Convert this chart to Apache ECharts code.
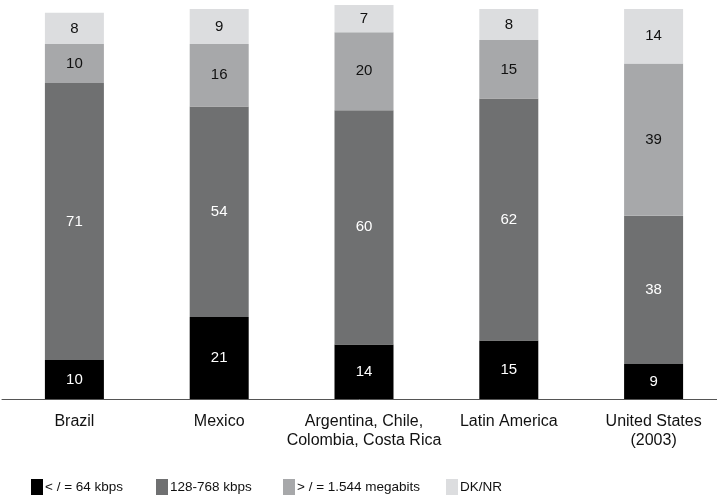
<!DOCTYPE html>
<html>
<head>
<meta charset="utf-8">
<script src="https://cdn.jsdelivr.net/npm/echarts@6/dist/echarts.min.js"></script>
<style>
  html, body { margin: 0; padding: 0; background: #fff; }
  #chart { width: 717px; height: 498px; }
</style>
</head>
<body>
<div id="chart"></div>
<script>
var categories = ['Brazil', 'Mexico', 'Argentina, Chile,\nColombia, Costa Rica', 'Latin America', 'United States\n(2003)'];
var seriesNames = ['< / = 64 kbps', '128-768 kbps', '> / = 1.544 megabits', 'DK/NR'];
var slow = [10, 21, 14, 15, 9];
var mid = [71, 54, 60, 62, 38];
var fast = [10, 16, 20, 15, 39];
var dknr = [8, 9, 7, 8, 14];

var colors = ['#000000', '#6f7071', '#a7a8aa', '#dcdddf'];
var labelColors = ['#ffffff', '#ffffff', '#111111', '#111111'];
var legendLeft = [31, 156, 283, 446];

var chart = echarts.init(document.getElementById('chart'));

function makeSeries(i, data) {
  return {
    name: seriesNames[i],
    type: 'bar',
    stack: 'total',
    barWidth: 59,
    clip: false,
    data: data,
    itemStyle: { color: colors[i] },
    label: {
      show: true,
      position: 'inside',
      color: labelColors[i],
      fontSize: 15,
      fontFamily: 'Liberation Sans, Arial, sans-serif'
    }
  };
}

var legends = seriesNames.map(function (name, i) {
  return {
    data: [name],
    left: legendLeft[i],
    top: 479,
    itemWidth: 12,
    itemHeight: 16,
    itemGap: 0,
    icon: 'rect',
    textStyle: {
      fontSize: 13.5,
      color: '#111',
      padding: [0, 0, 0, -3],
      fontFamily: 'Liberation Sans, Arial, sans-serif'
    },
    padding: 0,
    selectedMode: false
  };
});

var option = {
  backgroundColor: '#ffffff',
  animation: false,
  legend: legends,
  grid: { left: 2, right: -9, top: 5, bottom: 99, outerBoundsMode: 'none', containLabel: false },
  xAxis: {
    type: 'category',
    data: categories,
    axisLine: { show: true, lineStyle: { color: '#555', width: 1 } },
    axisTick: { show: false },
    axisLabel: {
      color: '#111',
      fontSize: 16,
      lineHeight: 19,
      margin: 13,
      interval: 0,
      fontFamily: 'Liberation Sans, Arial, sans-serif'
    }
  },
  yAxis: {
    type: 'value',
    min: 0,
    max: 101,
    show: false,
    splitLine: { show: false }
  },
  series: [
    makeSeries(0, slow),
    makeSeries(1, mid),
    makeSeries(2, fast),
    makeSeries(3, dknr)
  ]
};

chart.setOption(option);
window.onresize = function () { chart.resize(); };
</script>
</body>
</html>
